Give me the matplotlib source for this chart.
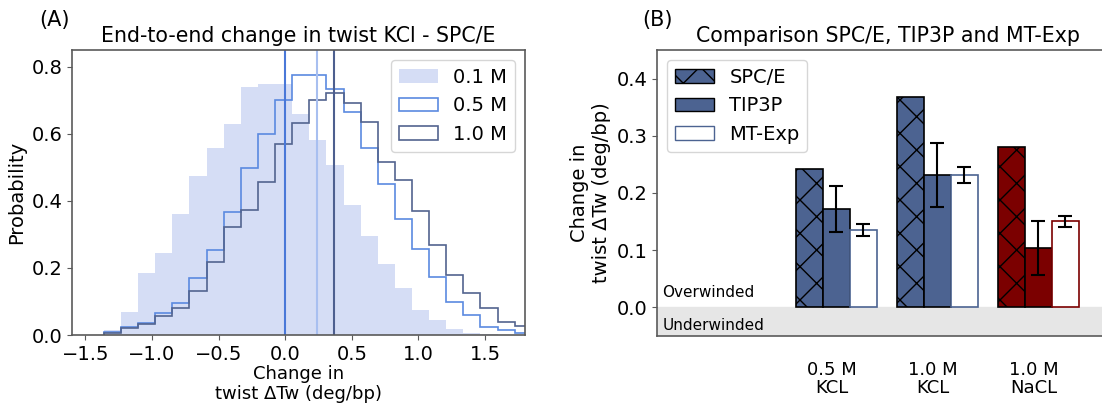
import numpy as np
import matplotlib
matplotlib.use("Agg")
import matplotlib.pyplot as plt
from matplotlib.patches import Patch

# ---- panel A: histograms (shared bin edges) ----
bin_edges = [-1.361, -1.233, -1.104, -0.976, -0.847, -0.719, -0.590, -0.462,
             -0.333, -0.205, -0.076, 0.053, 0.181, 0.310, 0.438, 0.567,
             0.695, 0.824, 0.952, 1.081, 1.209, 1.338, 1.466, 1.595, 1.723, 1.852]

prob_01 = [0.015, 0.070, 0.186, 0.245, 0.360, 0.475, 0.558, 0.629, 0.739, 0.749,
           0.749, 0.659, 0.581, 0.507, 0.388, 0.295, 0.212, 0.141, 0.075, 0.045,
           0.017, 0.007, 0.003, 0.0, 0.0]
prob_05 = [0.008, 0.025, 0.035, 0.067, 0.096, 0.171, 0.253, 0.368, 0.498, 0.600,
           0.700, 0.775, 0.775, 0.734, 0.666, 0.558, 0.450, 0.346, 0.258, 0.174,
           0.098, 0.060, 0.025, 0.015, 0.005]
prob_10 = [0.005, 0.020, 0.033, 0.058, 0.080, 0.132, 0.219, 0.321, 0.373, 0.457,
           0.571, 0.631, 0.700, 0.721, 0.691, 0.634, 0.517, 0.462, 0.370, 0.267,
           0.180, 0.124, 0.080, 0.040, 0.027]
mean_lines = [0.0, 0.241, 0.369]

# ---- panel B: bars ----
groups = ["0.5 M\nKCL", "1.0 M\nKCL", "1.0 M\nNaCL"]
spce = [0.241, 0.368, 0.281]
tip3p = [0.172, 0.232, 0.104]
tip3p_err = [0.040, 0.056, 0.047]
mtexp = [0.135, 0.231, 0.150]
mtexp_err = [0.010, 0.014, 0.010]

FS = 14
plt.rcParams["font.family"] = ["DejaVu Sans"]
plt.rcParams["font.size"] = FS
plt.rcParams["axes.edgecolor"] = "#5a5a5a"
plt.rcParams["axes.linewidth"] = 1.2
plt.rcParams["xtick.color"] = "#5a5a5a"
plt.rcParams["ytick.color"] = "#5a5a5a"
plt.rcParams["xtick.labelcolor"] = "black"
plt.rcParams["ytick.labelcolor"] = "black"

fig = plt.figure(figsize=(11.02, 4.07), dpi=100)

# panel A
ax1 = fig.add_axes([0.0653, 0.1769, 0.4111, 0.7001])
centers = np.array(bin_edges[:-1]) + 0.01
ax1.hist(centers, bins=bin_edges, weights=prob_01, histtype="stepfilled",
         color="#d5ddf5", label="0.1 M")
ax1.hist(centers, bins=bin_edges, weights=prob_05, histtype="step",
         color="#5b8ae0", lw=1.2, label="0.5 M")
ax1.hist(centers, bins=bin_edges, weights=prob_10, histtype="step",
         color="#53648f", lw=1.2, label="1.0 M")
for xv, c in zip(mean_lines, ["#4a78d8", "#a8bff0", "#4d5f8f"]):
    ax1.axvline(xv, color=c, lw=1.5)
ax1.set_xlim(-1.6, 1.8)
ax1.set_ylim(0, 0.85)
ax1.set_xticks([-1.5, -1.0, -0.5, 0.0, 0.5, 1.0, 1.5])
ax1.set_yticks([0.0, 0.2, 0.4, 0.6, 0.8])
ax1.set_ylabel("Probability")
ax1.set_xlabel("Change in\ntwist ΔTw (deg/bp)", fontsize=13, labelpad=1,
               linespacing=1.1)
ax1.set_title("End-to-end change in twist KCl - SPC/E", fontsize=FS + 0.8)
ax1.legend(loc="upper right", fontsize=FS)
fig.text(0.036, 0.935, "(A)", fontsize=FS + 1)

# panel B
ax2 = fig.add_axes([0.5965, 0.1752, 0.4189, 0.7018])
x = np.arange(len(groups))
w = 0.8 / 3
blue = "#4c6391"
red = "#7b0000"
cols = [blue, blue, red]
ax2.axhspan(-0.05, 0, color="#e6e6e6", zorder=0)
ax2.bar(x - w, spce, w, color=cols, edgecolor="black", hatch="x", lw=1.2)
ax2.bar(x, tip3p, w, color=cols, edgecolor="black", lw=1.2,
        yerr=tip3p_err, capsize=5, error_kw=dict(lw=1.5, capthick=1.5))
ax2.bar(x + w, mtexp, w, color="white", edgecolor=cols, lw=1.2,
        yerr=mtexp_err, capsize=5, error_kw=dict(lw=1.5, capthick=1.5))
ax2.set_xlim(-1.77, 2.8)
ax2.set_ylim(-0.05, 0.45)
ax2.set_yticks([0.0, 0.1, 0.2, 0.3, 0.4])
ax2.set_xticks(x - 0.04)
ax2.set_xticklabels(groups, fontsize=13, linespacing=1.05)
ax2.tick_params(axis="x", length=0, pad=18)
ax2.set_ylabel("Change in\ntwist ΔTw (deg/bp)")
ax2.set_title("Comparison SPC/E, TIP3P and MT-Exp", fontsize=FS + 0.8)
ax2.text(-1.72, 0.018, "Overwinded", fontsize=11)
ax2.text(-1.72, -0.04, "Underwinded", fontsize=11)
handles = [Patch(facecolor=blue, edgecolor="black", hatch="x", label="SPC/E"),
           Patch(facecolor=blue, edgecolor="black", label="TIP3P"),
           Patch(facecolor="white", edgecolor=blue, label="MT-Exp")]
ax2.legend(handles=handles, loc="upper left", fontsize=FS)
fig.text(0.583, 0.935, "(B)", fontsize=FS + 1)

fig.savefig("out.png", dpi=100)
